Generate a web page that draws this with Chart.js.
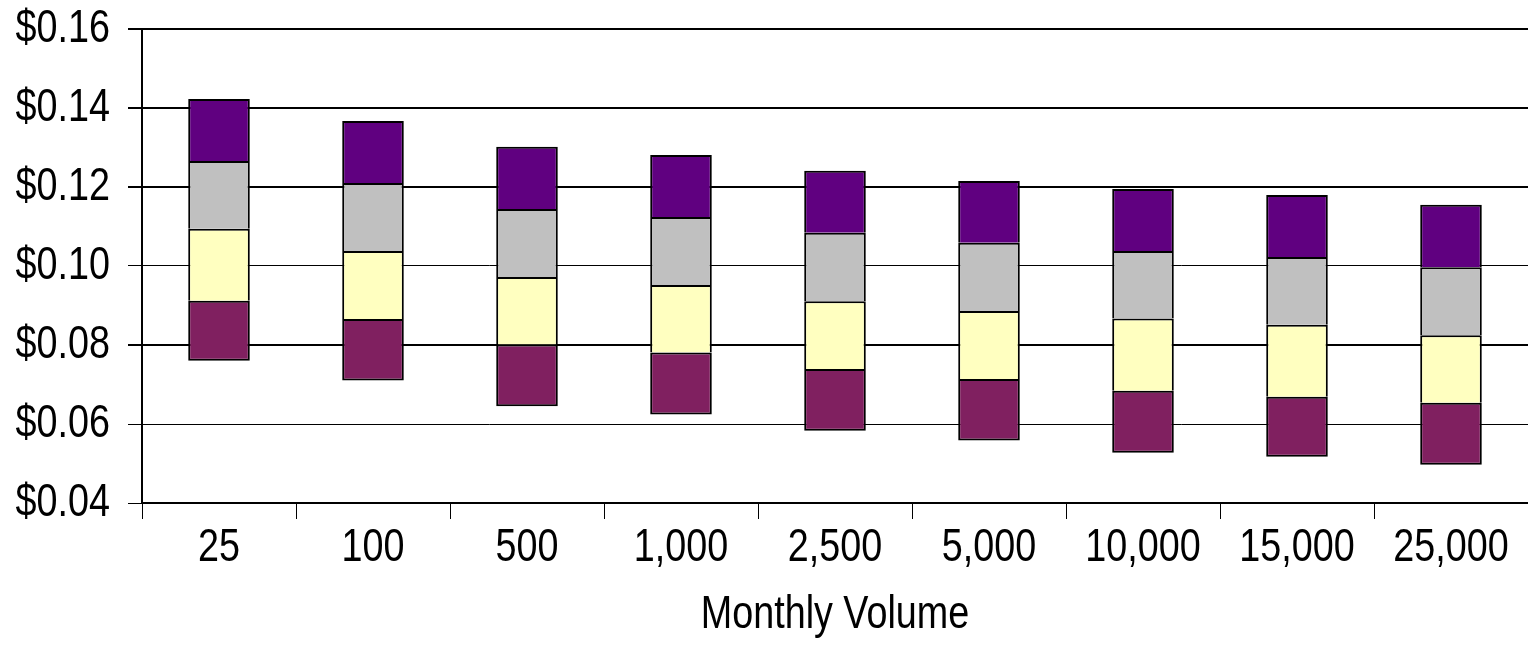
<!DOCTYPE html>
<html>
<head>
<meta charset="utf-8">
<script src="https://cdn.jsdelivr.net/npm/chart.js@4.4.1/dist/chart.umd.min.js"></script>
<style>
  html, body { margin: 0; padding: 0; background: #fff; }
  #wrap { width: 1528px; height: 671px; position: relative; }
</style>
</head>
<body>
<div id="wrap"><canvas id="c" width="1528" height="671"></canvas></div>
<script>
// Categories (monthly volume)
const categories = ['25', '100', '500', '1,000', '2,500', '5,000', '10,000', '15,000', '25,000'];
// Lowest price per piece (invisible base)
const baseValues = [0.0760, 0.0710, 0.0645, 0.0624, 0.0583, 0.0558, 0.0527, 0.0517, 0.0497];
// Stacked components (bottom to top)
const tier1 = [0.0152, 0.0156, 0.0156, 0.0157, 0.0156, 0.0156, 0.0157, 0.0152, 0.0157];
const tier2 = [0.0182, 0.0172, 0.0171, 0.0171, 0.0172, 0.0172, 0.0183, 0.0182, 0.0171];
const tier3 = [0.0172, 0.0172, 0.0172, 0.0172, 0.0173, 0.0173, 0.0171, 0.0172, 0.0172];
const tier4 = [0.0157, 0.0157, 0.0158, 0.0157, 0.0157, 0.0156, 0.0157, 0.0157, 0.0158];
// Y axis
const yMin = 0.04, yMax = 0.16, yStep = 0.02;
const thickGridValues = [0.16, 0.14, 0.12, 0.08];

const FONT = "'Liberation Sans', Arial, sans-serif";
const NARROW = 0.82; // emulate a narrow sans face
Chart.defaults.color = '#000';
Chart.defaults.font.family = FONT;

const canvas = document.getElementById('c');
const ctx2d = canvas.getContext('2d');
const origFillText = ctx2d.fillText;
ctx2d.fillText = function (text, x, y, maxWidth) {
  this.save();
  this.translate(x, y);
  this.scale(NARROW, 1);
  if (maxWidth === undefined || maxWidth === null) origFillText.call(this, text, 0, 0);
  else origFillText.call(this, text, 0, 0, maxWidth / NARROW);
  this.restore();
};

const seg = (label, data, color, skipped) => ({
  label, data, backgroundColor: color, borderColor: '#000', borderWidth: 2,
  borderSkipped: skipped, barPercentage: 0.4, categoryPercentage: 1.0
});

new Chart(ctx2d, {
  type: 'bar',
  data: {
    labels: categories,
    datasets: [
      { label: 'base', data: baseValues, backgroundColor: 'rgba(0,0,0,0)', borderWidth: 0,
        barPercentage: 0.4, categoryPercentage: 1.0 },
      seg('Tier 1', tier1, '#802060', false),
      seg('Tier 2', tier2, '#FFFFC0', 'start'),
      seg('Tier 3', tier3, '#C0C0C0', 'start'),
      seg('Tier 4', tier4, '#600080', 'start')
    ]
  },
  options: {
    responsive: false,
    animation: false,
    devicePixelRatio: 1,
    layout: { padding: { top: 29, right: 0, left: 0, bottom: 0 } },
    plugins: { legend: { display: false }, tooltip: { enabled: false }, title: { display: false } },
    scales: {
      x: {
        stacked: true,
        grid: { display: true, drawOnChartArea: false, drawTicks: true, tickLength: 16, color: '#000', lineWidth: 1, offset: true },
        border: { display: true, color: '#000', width: 2 },
        ticks: { font: { size: 46, lineHeight: 1.2 }, color: '#000', padding: 2, maxRotation: 0, autoSkip: false },
        title: { display: true, text: 'Monthly Volume', font: { size: 46, lineHeight: 1.0 }, color: '#000', padding: { top: 0, bottom: 33 } },
        afterFit: (s) => { s.height = 168; s.paddingLeft = 0; s.paddingRight = 0; }
      },
      y: {
        stacked: true,
        min: yMin, max: yMax,
        grid: {
          color: '#000', tickLength: 14, drawTicks: true,
          lineWidth: (c) => (c.tick && thickGridValues.some(v => Math.abs(v - c.tick.value) < 1e-6)) ? 2 : 1
        },
        border: { display: true, color: '#000', width: 2 },
        ticks: { stepSize: yStep, font: { size: 46, lineHeight: 1.2 }, color: '#000', padding: 18,
                 callback: (v) => '$' + Number(v).toFixed(2) },
        afterFit: (s) => { s.width = 142; s.paddingTop = 0; s.paddingBottom = 0; }
      }
    }
  }
});
</script>
</body>
</html>
